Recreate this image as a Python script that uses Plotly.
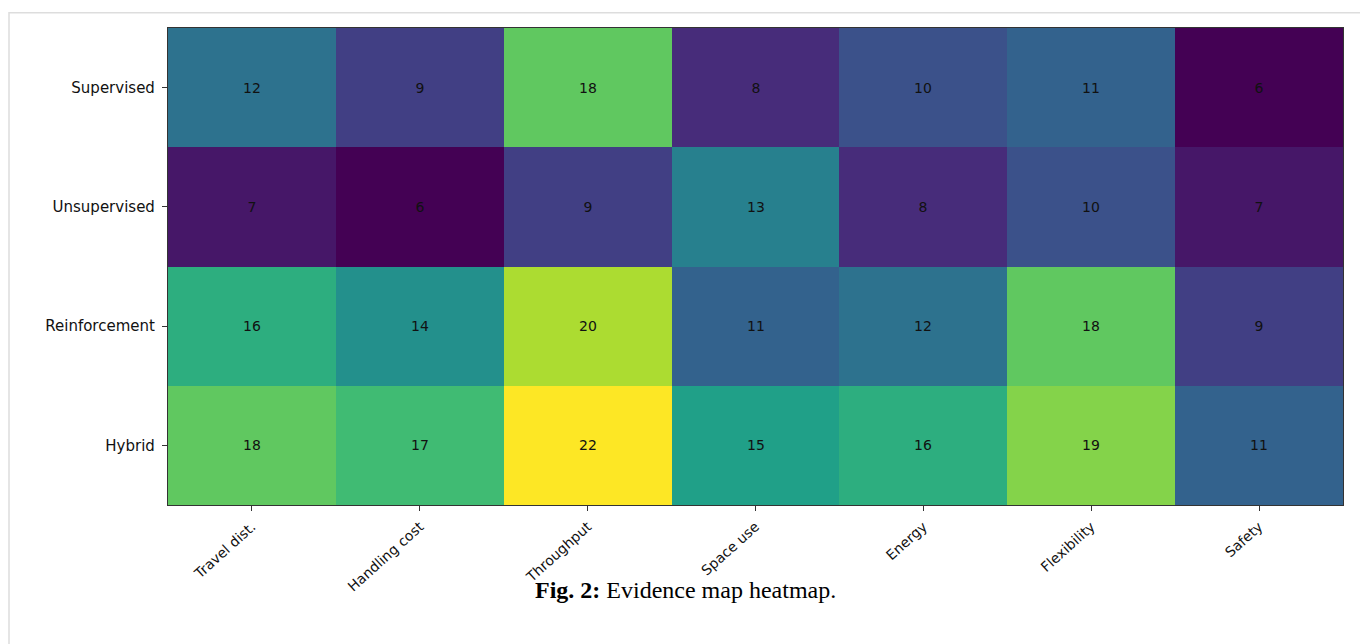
import plotly.graph_objects as go

# Data
criteria = ["Travel dist.", "Handling cost", "Throughput", "Space use", "Energy", "Flexibility", "Safety"]
methods = ["Supervised", "Unsupervised", "Reinforcement", "Hybrid"]
supervised = [12, 9, 18, 8, 10, 11, 6]
unsupervised = [7, 6, 9, 13, 8, 10, 7]
reinforcement = [16, 14, 20, 11, 12, 18, 9]
hybrid = [18, 17, 22, 15, 16, 19, 11]
caption_bold = "Fig. 2:"
caption_text = " Evidence map heatmap."

z = [supervised, unsupervised, reinforcement, hybrid]

OFF = 8  # page body margin
W, H = 1368 - OFF, 644 - OFF
L, R, T, B = 168 - OFF, 1343 - OFF, 28 - OFF, 505.5 - OFF
pw, ph = R - L, B - T


def px(x):
    return (x - OFF - L) / pw


def py(y):
    return (B - (y - OFF)) / ph


fig = go.Figure(
    go.Heatmap(
        z=z,
        x=criteria,
        y=methods,
        colorscale="Viridis",
        zmin=6,
        zmax=22,
        showscale=False,
        texttemplate="%{z}",
        textfont=dict(family="DejaVu Sans", size=14, color="#111111"),
        hoverinfo="x+y+z",
    )
)

fig.update_layout(
    width=W,
    height=H,
    margin=dict(l=L, r=W - R, t=T, b=H - B),
    paper_bgcolor="white",
    plot_bgcolor="white",
    font=dict(family="DejaVu Sans", size=14, color="#111111"),
    xaxis=dict(
        tickangle=-42,
        ticks="outside",
        ticklen=5,
        tickcolor="#333333",
        showline=True,
        linecolor="#333333",
        linewidth=1.2,
        mirror=True,
        showgrid=False,
        zeroline=False,
        tickfont=dict(size=14),
        ticklabelstandoff=2,
    ),
    yaxis=dict(
        autorange="reversed",
        ticks="outside",
        ticklen=5,
        tickcolor="#333333",
        showline=True,
        linecolor="#333333",
        linewidth=1.2,
        mirror=True,
        showgrid=False,
        zeroline=False,
        tickfont=dict(size=15),
        ticklabelstandoff=4,
    ),
    shapes=[
        dict(
            type="rect",
            xref="paper",
            yref="paper",
            x0=px(9),
            x1=px(1363),
            y0=py(670),
            y1=py(12.7),
            line=dict(color="#dddddd", width=1.5),
            fillcolor="rgba(0,0,0,0)",
            layer="below",
        )
    ],
    annotations=[
        dict(
            xref="paper",
            yref="paper",
            x=px(685),
            y=py(591),
            xanchor="center",
            yanchor="middle",
            showarrow=False,
            text="<b>" + caption_bold + "</b>" + caption_text,
            font=dict(family="Liberation Serif", size=24, color="#000000"),
        )
    ],
)

fig.write_html("out.html")
